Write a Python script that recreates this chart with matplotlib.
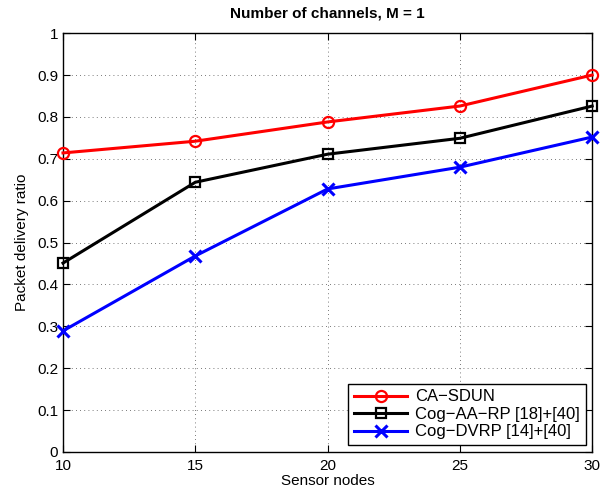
import matplotlib
matplotlib.use("Agg")
import matplotlib.pyplot as plt

plt.rcParams['font.family'] = ['Liberation Sans', 'DejaVu Sans']

# packet delivery ratio vs number of sensor nodes
nodes = [10, 15, 20, 25, 30]
ca_sdun = [0.714, 0.742, 0.788, 0.826, 0.900]
cog_aa_rp = [0.451, 0.644, 0.711, 0.749, 0.826]
cog_dvrp = [0.289, 0.468, 0.628, 0.680, 0.752]

fig = plt.figure(figsize=(6, 4.95), dpi=100)
ax = fig.add_axes([0.105, 0.087, 0.882, 0.846])

ax.plot(nodes, ca_sdun, color="red", lw=2.2, marker="o", ms=8,
        mfc="none", mew=1.6, label="CA\u2212SDUN", clip_on=False, zorder=3)
ax.plot(nodes, cog_aa_rp, color="black", lw=2.2, marker="s", ms=6.5,
        mfc="none", mew=1.6, label="Cog\u2212AA\u2212RP [18]+[40]", clip_on=False, zorder=3)
ax.plot(nodes, cog_dvrp, color="blue", lw=2.2, marker="x", ms=9,
        mew=2.2, label="Cog\u2212DVRP [14]+[40]", clip_on=False, zorder=3)

ax.set_xlim(10, 30)
ax.set_ylim(0, 1)
ax.set_xticks([10, 15, 20, 25, 30])
ax.set_yticks([i / 10 for i in range(11)])
ax.set_yticklabels(["0", "0.1", "0.2", "0.3", "0.4", "0.5", "0.6", "0.7", "0.8", "0.9", "1"])
ax.tick_params(direction="in", top=True, right=True, labelsize=11, length=5, width=0.8)
ax.tick_params(axis="x", pad=5)
ax.grid(True, color="black", linestyle=(0, (1, 4)), lw=0.6, alpha=0.7)
for s in ax.spines.values():
    s.set_linewidth(1.0)

ax.set_xlabel("Sensor nodes", fontsize=11, labelpad=1)
ax.set_ylabel("Packet delivery ratio", fontsize=11, labelpad=6)
ax.set_title("Number of channels, M = 1", fontsize=11, fontweight="bold", pad=11)

leg = ax.legend(loc="lower right", fontsize=12, fancybox=False, framealpha=1,
                edgecolor="black", borderaxespad=0.4, handlelength=3.2,
                handletextpad=0.45, labelspacing=0.15, borderpad=0.35)
leg.get_frame().set_linewidth(1.0)

fig.savefig("out.png", dpi=100)
